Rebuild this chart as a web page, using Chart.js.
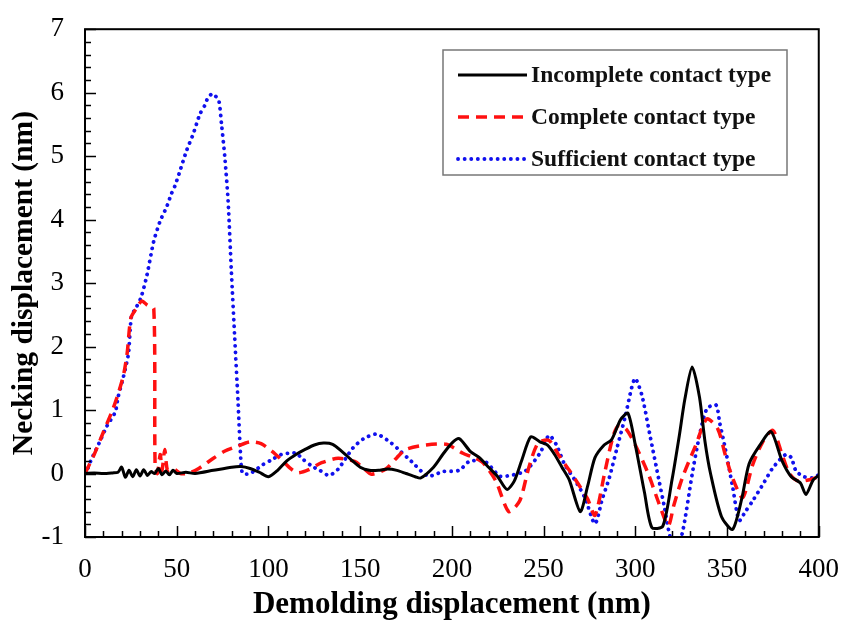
<!DOCTYPE html>
<html>
<head>
<meta charset="utf-8">
<title>Necking displacement</title>
<script src="https://cdn.jsdelivr.net/npm/chart.js@4.4.0/dist/chart.umd.min.js"></script>
<style>
  html, body { margin: 0; padding: 0; background: #fff; }
  #wrap { width: 848px; height: 624px; }
</style>
</head>
<body>
<div id="wrap"><canvas id="chart" width="848" height="624"></canvas></div>
<script>
// values (nm)
const incompleteX = [0, 5, 10, 15, 18, 20, 22, 24, 26, 28, 30, 32, 34, 36, 38, 40, 42, 44, 46, 48, 50, 55, 60, 70, 80, 85, 90, 95, 100, 105, 110, 115, 120, 125, 130, 135, 140, 145, 150, 155, 160, 165, 170, 175, 180, 183, 190, 195, 200, 204, 210, 215, 220, 225, 230, 234, 238, 243, 248, 252, 256, 260, 264, 270, 274, 278, 283, 287, 292, 296, 300, 305, 309, 315, 320, 324, 327, 331, 335, 338, 341, 347, 353, 358, 362, 368, 374, 380, 385, 390, 393, 397, 400];
const incompleteY = [0, 0.01, 0, 0.01, 0.02, 0.1, -0.06, 0.05, -0.05, 0.06, -0.04, 0.06, -0.03, 0.03, 0, 0.08, -0.02, 0.04, -0.02, 0.05, 0, 0.02, 0, 0.05, 0.1, 0.11, 0.08, 0.02, -0.05, 0.05, 0.2, 0.3, 0.38, 0.45, 0.48, 0.46, 0.35, 0.22, 0.1, 0.05, 0.05, 0.07, 0.05, 0, -0.05, -0.07, 0.1, 0.3, 0.48, 0.55, 0.35, 0.25, 0.1, -0.05, -0.25, -0.12, 0.2, 0.58, 0.5, 0.45, 0.3, 0.1, -0.1, -0.6, -0.2, 0.25, 0.45, 0.53, 0.85, 0.95, 0.45, -0.3, -0.85, -0.83, -0.1, 0.6, 1.17, 1.68, 1.2, 0.5, 0, -0.68, -0.88, -0.4, 0.15, 0.45, 0.66, 0.2, -0.05, -0.15, -0.33, -0.1, -0.03];

const completeX = [0, 5, 10, 15, 18, 21, 23, 25, 28, 31, 34, 37.5, 38.2, 39.5, 41, 42, 43.5, 45, 48, 52, 57, 62, 70, 76, 83, 90, 96, 102, 107, 112, 116, 122, 129, 138, 147, 152, 156, 164, 170, 175, 186, 197, 206, 212, 217, 224, 231, 237, 242, 247, 253, 258, 264, 269, 274, 278, 283.5, 288, 291, 295, 300, 307, 313, 318, 321, 325.6, 333, 339, 345, 349, 353, 358.5, 364, 369.5, 375, 380, 384, 389, 396, 400];
const completeY = [0, 0.3, 0.65, 1.0, 1.25, 1.55, 1.9, 2.45, 2.6, 2.72, 2.65, 2.6, 0.15, 0, 0.3, 0.05, 0.38, 0.05, 0.08, 0, 0.01, 0.08, 0.24, 0.35, 0.43, 0.5, 0.47, 0.35, 0.22, 0.08, 0.01, 0.06, 0.17, 0.24, 0.19, 0.08, -0.01, 0.07, 0.25, 0.38, 0.45, 0.46, 0.32, 0.25, 0.17, -0.12, -0.6, -0.43, 0.1, 0.48, 0.52, 0.3, 0.05, -0.17, -0.4, -0.66, 0.04, 0.6, 0.76, 0.7, 0.45, 0, -0.48, -0.82, -0.5, -0.07, 0.45, 0.86, 0.7, 0.3, -0.07, -0.38, 0.14, 0.5, 0.68, 0.3, 0, -0.12, -0.09, -0.05];

const sufficientX = [0, 1, 3, 8, 12, 16.5, 18, 21, 23.7, 24.6, 25.5, 27, 30.5, 33.8, 37.4, 41, 44.5, 47, 49, 51.7, 55.4, 59, 62.6, 65.3, 67, 69.2, 71, 73, 74.4, 76.2, 78, 79.8, 81.6, 83.4, 85, 86, 90, 97, 102, 107, 111, 115, 119, 124, 128, 133, 138, 146, 152, 159, 167, 172, 178, 187, 195, 204, 209.5, 218, 226, 230, 240, 248, 253, 257, 261.5, 267, 272.5, 278, 282, 285.8, 290, 294.6, 298, 300, 303.7, 308, 313, 316, 319, 322, 325.6, 331, 335, 339, 344, 346, 349, 353, 356.6, 360, 364, 370, 375, 382, 385, 387.6, 392, 396.5, 400];
const sufficientY = [0, 0.04, 0.19, 0.5, 0.75, 0.97, 1.2, 1.53, 1.89, 2.26, 2.51, 2.57, 2.77, 3.13, 3.65, 3.98, 4.2, 4.4, 4.53, 4.76, 5.09, 5.35, 5.66, 5.8, 5.92, 5.98, 5.95, 5.87, 5.51, 4.99, 4.3, 3.18, 2.15, 1.15, 0.19, 0, 0, 0.14, 0.22, 0.3, 0.32, 0.32, 0.22, 0.11, 0.05, -0.03, 0.07, 0.4, 0.55, 0.62, 0.48, 0.35, 0.19, -0.04, 0.03, 0.05, 0.19, 0.19, -0.04, -0.04, 0.04, 0.32, 0.6, 0.45, 0.14, -0.1, -0.38, -0.79, -0.4, -0.07, 0.4, 0.91, 1.35, 1.5, 1.22, 0.6, -0.12, -0.55, -1.0, -1.15, -0.94, -0.01, 0.6, 1.02, 1.08, 0.8, 0.4, -0.2, -0.74, -0.6, -0.43, -0.15, 0.09, 0.3, 0.25, 0.04, -0.05, -0.07, -0.02];

const seriesNames = ['Incomplete contact type', 'Complete contact type', 'Sufficient contact type'];
const xTitle = 'Demolding displacement (nm)';
const yTitle = 'Necking displacement (nm)';

const serif = '"Liberation Serif", "Times New Roman", serif';

function toPoints(xs, ys) {
  return xs.map((x, i) => ({ x, y: ys[i] }));
}

// box around the plot plus inward ticks on the left and bottom edges
const frameTicks = {
  id: 'frameTicks',
  afterDatasetsDraw(chart) {
    const { ctx, chartArea: a, scales } = chart;
    ctx.save();
    ctx.strokeStyle = '#000';
    ctx.lineWidth = 1.5;
    for (let v = 0; v <= 400; v += 10) {
      const px = Math.round(scales.x.getPixelForValue(v)) + 0.5;
      const len = v % 50 === 0 ? 11 : 6;
      ctx.beginPath();
      ctx.moveTo(px, a.bottom);
      ctx.lineTo(px, a.bottom - len);
      ctx.stroke();
    }
    for (let i = -5; i <= 35; i++) {
      const py = Math.round(scales.y.getPixelForValue(i / 5)) + 0.5;
      const len = i % 5 === 0 ? 11 : 6;
      ctx.beginPath();
      ctx.moveTo(a.left, py);
      ctx.lineTo(a.left + len, py);
      ctx.stroke();
    }
    ctx.lineWidth = 2;
    ctx.strokeRect(a.left, a.top, a.right - a.left, a.bottom - a.top);
    ctx.restore();
  }
};

// framed legend in the upper right of the plot
const boxLegend = {
  id: 'boxLegend',
  afterDraw(chart) {
    const { ctx } = chart;
    const left = 443, top = 50, width = 344, height = 125;
    ctx.save();
    ctx.fillStyle = '#fff';
    ctx.fillRect(left, top, width, height);
    ctx.strokeStyle = '#777';
    ctx.lineWidth = 1.5;
    ctx.strokeRect(left, top, width, height);
    chart.data.datasets.forEach((ds, i) => {
      const y = top + 25 + i * 42;
      ctx.strokeStyle = ds.borderColor;
      ctx.lineWidth = ds.borderWidth;
      ctx.lineCap = ds.borderCapStyle || 'butt';
      ctx.setLineDash(ds.borderDash || []);
      ctx.beginPath();
      ctx.moveTo(458, y);
      ctx.lineTo(527, y);
      ctx.stroke();
      ctx.setLineDash([]);
      ctx.fillStyle = '#111';
      ctx.font = 'bold 23.5px ' + serif;
      ctx.textBaseline = 'middle';
      ctx.textAlign = 'left';
      ctx.fillText(ds.label, 531, y + 1);
    });
    ctx.restore();
  }
};

new Chart(document.getElementById('chart'), {
  type: 'line',
  data: {
    datasets: [
      {
        label: seriesNames[0],
        data: toPoints(incompleteX, incompleteY),
        borderColor: '#000000',
        borderWidth: 3,
        tension: 0.25
      },
      {
        label: seriesNames[1],
        data: toPoints(completeX, completeY),
        borderColor: '#ff1010',
        borderWidth: 3.5,
        borderDash: [11, 7],
        tension: 0.25
      },
      {
        label: seriesNames[2],
        data: toPoints(sufficientX, sufficientY),
        borderColor: '#1010ee',
        borderWidth: 3.8,
        borderDash: [0.1, 6.5],
        borderCapStyle: 'round',
        tension: 0.25
      }
    ]
  },
  options: {
    responsive: false,
    animation: false,
    elements: { point: { radius: 0 } },
    layout: { padding: { top: 20, right: 28, left: 0, bottom: 0 } },
    plugins: {
      legend: { display: false },
      tooltip: { enabled: false }
    },
    scales: {
      x: {
        type: 'linear',
        min: 0,
        max: 400,
        grid: { display: false },
        border: { display: false },
        ticks: {
          stepSize: 50,
          maxRotation: 0,
          color: '#000',
          padding: 9,
          font: { family: serif, size: 27 }
        },
        title: {
          display: true,
          text: xTitle,
          color: '#000',
          padding: { top: 0, bottom: 0 },
          font: { family: serif, size: 31, weight: 'bold' }
        },
        afterFit(scale) { scale.height = 87; }
      },
      y: {
        min: -1,
        max: 7,
        grid: { display: false },
        border: { display: false },
        ticks: {
          stepSize: 1,
          color: '#000',
          padding: 13,
          font: { family: serif, size: 27 }
        },
        title: {
          display: true,
          text: yTitle,
          color: '#000',
          padding: { top: 7, bottom: 0 },
          font: { family: serif, size: 29.5, weight: 'bold' }
        },
        afterFit(scale) { scale.width = 85; }
      }
    }
  },
  plugins: [frameTicks, boxLegend]
});
</script>
</body>
</html>
